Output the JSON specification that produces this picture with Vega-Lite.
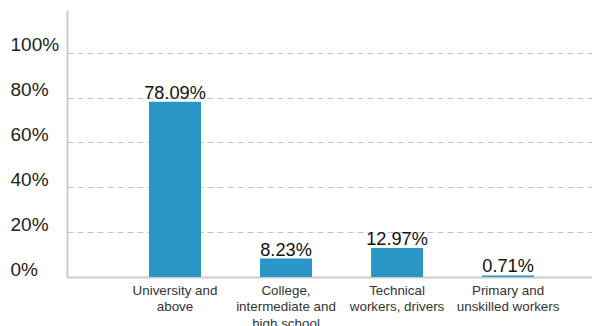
{
  "$schema": "https://vega.github.io/schema/vega-lite/v6.json",
  "width": 525,
  "height": 267,
  "autosize": {"type": "none"},
  "padding": {"left": 67, "top": 10, "right": 0, "bottom": 49},
  "background": "white",
  "data": {
    "values": [
      {"category": "University and|above", "share": 0.7809, "label": "78.09%"},
      {"category": "College,|intermediate and|high school", "share": 0.0823, "label": "8.23%"},
      {"category": "Technical|workers, drivers", "share": 0.1297, "label": "12.97%"},
      {"category": "Primary and|unskilled workers", "share": 0.0071, "label": "0.71%"}
    ]
  },
  "encoding": {
    "x": {
      "field": "category",
      "type": "nominal",
      "sort": null,
      "scale": {"paddingInner": 0.5315, "paddingOuter": 0.63, "align": 0.586},
      "axis": {
        "title": null,
        "labelAngle": 0,
        "labelExpr": "split(datum.label, '|')",
        "labelFont": "Liberation Sans",
        "labelFontSize": 13.4,
        "labelColor": "#333333",
        "labelLineHeight": 16.6,
        "labelPadding": 6,
        "labelBaseline": "top",
        "ticks": false,
        "domainColor": "#cccccc",
        "domainWidth": 2,
        "grid": false
      }
    },
    "y": {
      "field": "share",
      "type": "quantitative",
      "scale": {"domain": [0, 1.19], "nice": false},
      "axis": {
        "title": null,
        "values": [0, 0.2, 0.4, 0.6, 0.8, 1.0],
        "format": ".0%",
        "labelFont": "Liberation Sans",
        "labelFontSize": 19,
        "labelColor": "#222222",
        "labelAlign": "left",
        "labelBaseline": "alphabetic",
        "labelOffset": -2,
        "labelPadding": 57,
        "ticks": false,
        "domainColor": "#cccccc",
        "domainWidth": 2,
        "grid": true,
        "gridColor": "#c4c4c4",
        "gridDash": [6, 4],
        "gridWidth": 1
      }
    }
  },
  "layer": [
    {
      "mark": {"type": "bar", "color": "#2996c6"}
    },
    {
      "mark": {
        "type": "text",
        "baseline": "alphabetic",
        "dy": -3,
        "font": "Liberation Sans",
        "fontSize": 18.2,
        "color": "#111111"
      },
      "encoding": {"text": {"field": "label"}}
    }
  ],
  "config": {"view": {"stroke": null}}
}
